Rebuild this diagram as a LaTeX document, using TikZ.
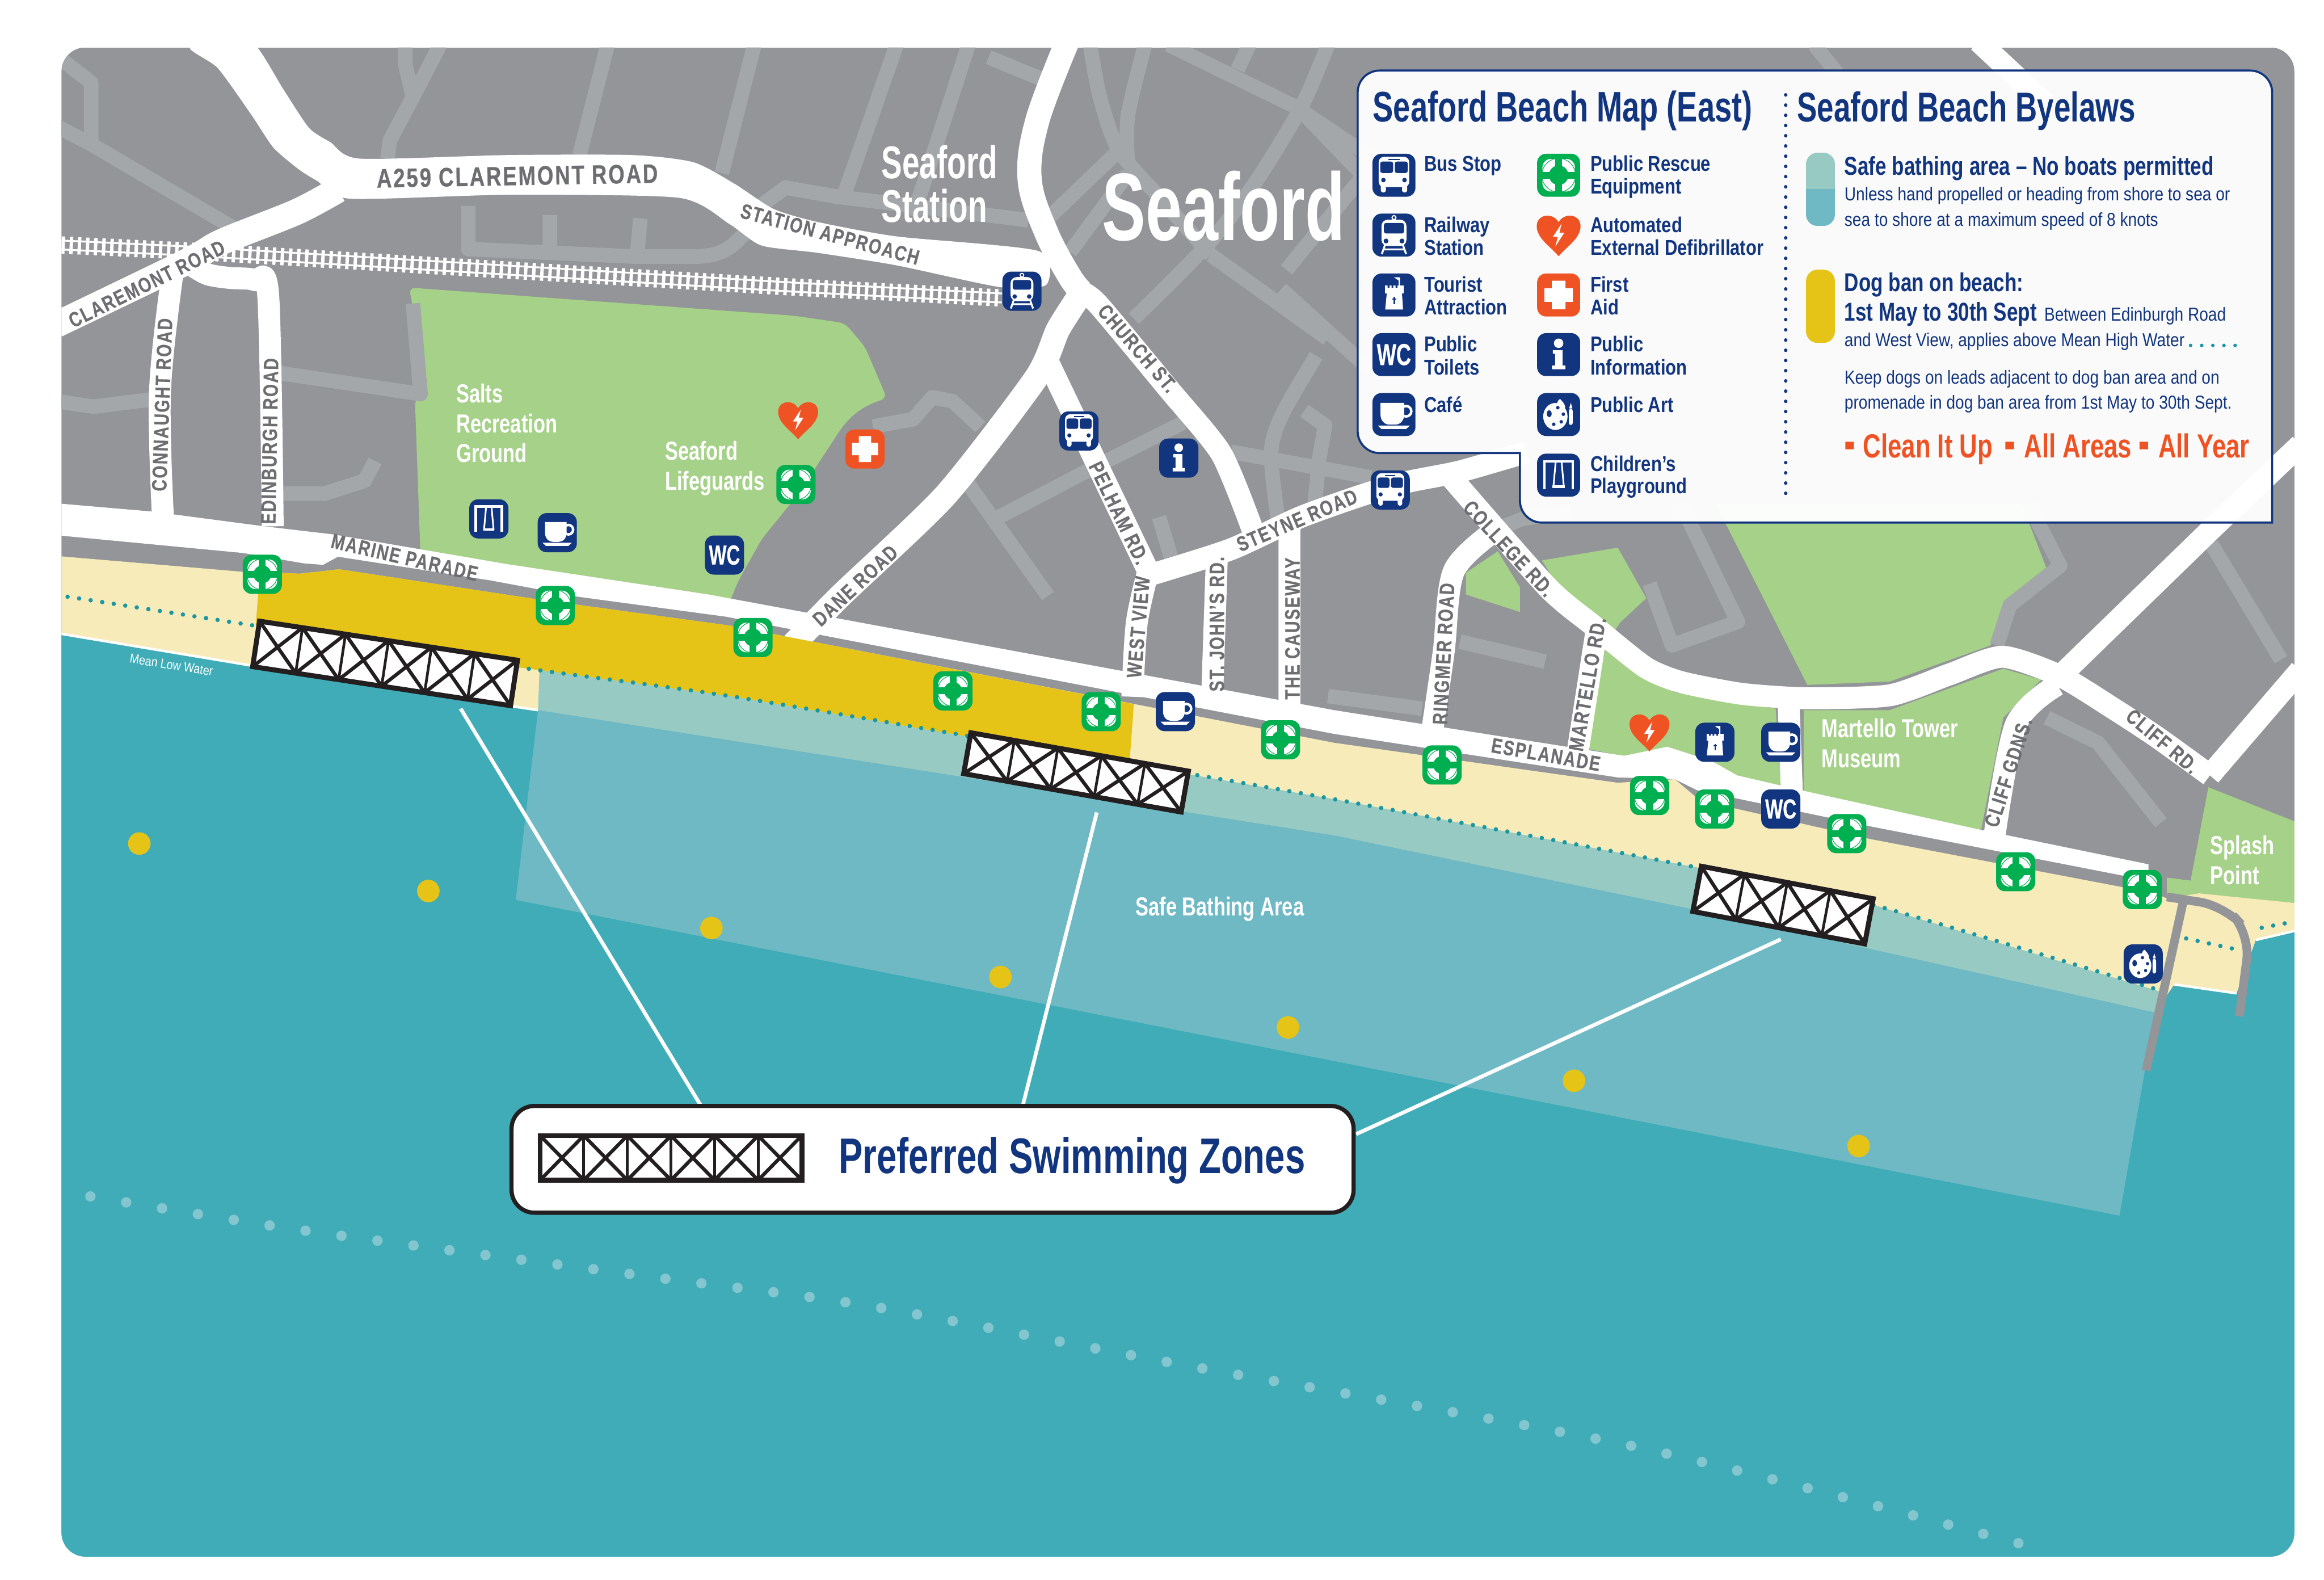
\documentclass[tikz,border=0pt]{standalone}
\usepackage{fontspec}
\setmainfont{Liberation Sans}
\newfontfamily\headfont[FakeStretch=0.72]{Liberation Sans}
\newfontfamily\townfont[FakeStretch=0.68]{Liberation Sans}
\newfontfamily\wcfont[FakeStretch=0.68,FakeBold=0.5]{Liberation Sans}
\newfontfamily\placefont[FakeStretch=0.75]{Liberation Sans}
\newfontfamily\itemfont[FakeStretch=0.82]{Liberation Sans}
\newfontfamily\lawfont[FakeStretch=0.77]{Liberation Sans}
\newfontfamily\bodyfont[FakeStretch=0.85]{Liberation Sans}
\newfontfamily\cleanfont[FakeStretch=0.745]{Liberation Sans}
\newfontfamily\roadfont[FakeStretch=0.78,LetterSpace=6,FakeBold=0.5]{Liberation Sans}
\newcommand{\fsz}[2]{\fontsize{#1}{#2}\selectfont}
\definecolor{land}{HTML}{939598}
\definecolor{backroad}{HTML}{A3A7A9}
\definecolor{park}{HTML}{A6D189}
\definecolor{sea}{HTML}{3FACB7}
\definecolor{safe}{HTML}{6EB9C4}
\definecolor{safepale}{HTML}{96CAC3}
\definecolor{sand}{HTML}{F7EBBA}
\definecolor{dogban}{HTML}{E6C317}
\definecolor{navy}{HTML}{12357F}
\definecolor{rescue}{HTML}{00AF50}
\definecolor{alert}{HTML}{F05323}
\definecolor{roadtext}{HTML}{6D6E71}
\definecolor{tealdot}{HTML}{1A97A3}
\definecolor{farbuoy}{HTML}{84C6CF}
\definecolor{zoneblack}{HTML}{231F20}
\tikzset{
  pics/busicon/.style={code={
    \fill[white,rounded corners=2.5pt] (-9.4,-11.3) rectangle (9.4,7.3);
    \fill[white,rounded corners=1pt] (-8.1,5) rectangle (-5,10.6) (5,5) rectangle (8.1,10.6);
    \fill[navy,rounded corners=1pt] (-8.5,-8.4) rectangle (-.5,-1.4) (.5,-8.4) rectangle (8.5,-1.4);
    \fill[navy] (-3.4,-10.1) rectangle (3.4,-9.2);
    \fill[navy] (-6.5,3) circle (1.4) (6.5,3) circle (1.4);
  }},
  pics/trainicon/.style={code={
    \fill[white,rounded corners=3pt] (-7.7,-9.5) rectangle (7.7,6.7);
    \fill[navy,rounded corners=1pt] (-6.2,-7.5) rectangle (6.2,-1);
    \fill[navy] (-4.9,3.6) circle (1.5) (4.9,3.6) circle (1.5);
    \fill[white] (0,-10.8) circle (1.6);
    \fill[navy] (0,-10.8) circle (.8);
    \draw[white,line width=.9pt] (-5.5,6) -- (-7.5,11.7) (5.5,6) -- (7.5,11.7) (-6.5,8.8) -- (6.5,8.8);
  }},
  pics/towericon/.style={code={
    \fill[white] (-4.4,-1.2) -- (4.9,-1.2) -- (5.6,8.9) -- (-5.4,8.9) -- cycle;
    \fill[white] (-5.4,-5.8) rectangle (6.1,-1);
    \fill[navy] (-3.9,-6) rectangle (-2.8,-4.4) (-1.5,-6) rectangle (-.4,-4.4) (1,-6) rectangle (2.1,-4.4);
    \fill[white] (2.9,-10.9) rectangle (3.7,-5) (0,-10.9) -- (3,-10.9) -- (3,-8.9) -- cycle;
    \draw[navy,line width=.6pt] (.2,1) -- (.2,5.5) (-.9,2.4) -- (1.3,2.4);
  }},
  pics/cupicon/.style={code={
    \fill[white] (-8.3,-7.2) -- (6.3,-7.2) -- (6.3,0) .. controls (6.3,4) and (3.5,6.2) .. (1,6.2) -- (-3,6.2)
      .. controls (-5.5,6.2) and (-8.3,4) .. (-8.3,0) -- cycle;
    \draw[white,line width=1.2pt] (7.5,-2) circle (3.2);
    \fill[white] (-10,6.8) -- (9.8,6.8) -- (7.5,8.9) -- (-7.7,8.9) -- cycle;
  }},
  pics/aidicon/.style={code={
    \fill[white] (-4.2,-8.8) rectangle (4.2,8.8) (-8.8,-4.2) rectangle (8.8,4.2);
  }},
  pics/infoicon/.style={code={
    \fill[white] (0,-7) circle (2.9);
    \fill[white] (-3.6,-2.7) -- (2.4,-2.7) -- (2.4,6.7) -- (4.1,6.7) -- (4.1,9) -- (-4.1,9) -- (-4.1,6.7) -- (-2.2,6.7) -- (-2.2,-.5) -- (-3.6,-.5) -- cycle;
  }},
  pics/swingicon/.style={code={
    \draw[white,line width=1.2pt] (-8.8,8.7) -- (-8.8,-8.4) -- (8.8,-8.4) -- (8.8,8.7);
    \draw[white,line width=.8pt] (-1.8,-8.4) -- (-3.2,7) -- (3.2,7) -- (1.8,-8.4);
    \fill[white] (-3.8,6.3) rectangle (3.8,7.8);
  }},
  pics/articon/.style={code={
    \fill[white] (-2,1.2) ellipse (7.5 and 8.3);
    \fill[white] (-1.5,-4) .. controls (-1,-8) and (0,-9.5) .. (1,-9.5) .. controls (2,-8) and (4,-7) .. (4,-4) -- cycle;
    \fill[navy] (-5.8,-.5) ellipse (1.5 and 2.2) (-3,6) circle (1.1) (1.6,4.5) circle (1.1) (2.9,-.2) circle (1.1) (-.5,-4.2) circle (1.1);
    \fill[white,rounded corners=1pt] (6.3,-3.5) rectangle (8.7,6.5);
    \fill[white] (6.5,-3.8) -- (7.5,-7.2) -- (8.5,-3.8) -- cycle;
  }},
  pics/rescueicon/.style={code={
    \fill[white,rounded corners=4pt] (-10,-10) rectangle (10,10);
    \draw[rescue,line width=.3pt] (0,0) circle (10.4);
    \draw[rescue,line width=3.3pt] (-12,0) -- (12,0) (0,-12) -- (0,12);
    \fill[rescue] (0,0) circle (6);
  }},
  pics/hearticon/.style={code={
    \fill[alert] (0,13) .. controls (-5,7) and (-13.5,2) .. (-13.5,-5.5)
      .. controls (-13.5,-10) and (-10,-12) .. (-7,-12) .. controls (-4,-12) and (-1.5,-10.5) .. (0,-8)
      .. controls (1.5,-10.5) and (4,-12) .. (7,-12) .. controls (10,-12) and (13.5,-10) .. (13.5,-5.5)
      .. controls (13.5,2) and (5,7) .. (0,13) -- cycle;
    \fill[white] (1.8,-7) -- (-3.5,1) -- (-.5,1) -- (-2,7) -- (3.5,-1.5) -- (.5,-1.5) -- cycle;
  }},
  pics/swimzone/.style n args={3}{code={
    \pgfmathsetmacro\segw{#1/#3}
    \fill[white] ({-#1/2},{-#2/2}) rectangle ({#1/2},{#2/2});
    \foreach \k in {1,...,#3} {
      \pgfmathsetmacro\lft{-#1/2+(\k-1)*\segw}
      \pgfmathsetmacro\rgt{-#1/2+\k*\segw}
      \draw[zoneblack,line width=1.7pt] (\lft,{-#2/2}) -- (\rgt,{#2/2}) (\rgt,{-#2/2}) -- (\lft,{#2/2});
      \draw[zoneblack,line width=1.3pt] (\rgt,{-#2/2}) -- (\rgt,{#2/2});
    }
    \draw[zoneblack,line width=2.4pt] ({-#1/2},{-#2/2}) rectangle ({#1/2},{#2/2});
  }}
}
\begin{document}
\begin{tikzpicture}[x=0.025cm,y=-0.025cm,
    main road/.style={draw=white,line width=12.5pt,line join=round},
    town road/.style={draw=white,line width=11.6pt,line join=round},
    side road/.style={draw=white,line width=10.5pt,line join=round},
    back road/.style={draw=backroad,line width=7pt,line join=round},
    map box/.style={rectangle,fill=navy,minimum size=.66cm,inner sep=0pt,rounded corners=4.3pt},
    key box/.style={map box,minimum size=.725cm},
    buoy box/.style={map box,fill=rescue},
    key buoy/.style={key box,fill=rescue},
    aid box/.style={map box,fill=alert},
    key aid/.style={key box,fill=alert},
    key icon/.style={scale=1.095},
    road label/.style={font=\roadfont\bfseries\fsz{10}{10},text=roadtext,inner sep=0pt},
    place label/.style={font=\placefont\bfseries\fsz{12.5}{14},text=white,inner sep=0pt,anchor=base west},
    key item/.style={font=\itemfont\bfseries\fsz{10.3}{11},text=navy,inner sep=0pt,anchor=base west},
    law item/.style={font=\lawfont\bfseries\fsz{12.4}{13},text=navy,inner sep=0pt,anchor=base west},
    key body/.style={font=\bodyfont\fsz{9}{10},text=navy,inner sep=0pt,anchor=base west},
    clean label/.style={font=\cleanfont\bfseries\fsz{16}{16},text=alert,inner sep=0pt,anchor=base west},
    zone buoy/.style={circle,fill=dogban,minimum size=.38cm,inner sep=0pt}]
  \useasboundingbox (0,0) rectangle (1568,1065.4);
  \fill[white] (0,0) rectangle (1568,1065.4);
  \begin{scope}
    \clip[rounded corners=11.5pt] (41.5,32) rectangle (1548,1050);
    \fill[land] (41.5,32) rectangle (1548,1050);
    % parks
    \fill[park,rounded corners=3pt] (276,194) -- (536,213) -- (570,218) -- (583.6,234) -- (598.4,268.7)
      .. controls (578,275) and (570,285) .. (562,297.5) -- (538,334) -- (514,363.5) -- (497.7,392.7) -- (490,412)
      -- (283.7,375) -- (280,270.6) -- (287,251) -- cycle;
    \fill[park] (989,386.4) -- (1010.5,371.8) -- (1025.5,396.2) -- (1025.5,412.8) -- (989,401) -- cycle;
    \fill[park] (1040.4,378) -- (1091.5,369.4) -- (1110.7,403.5) -- (1093,420) -- (1085,432) -- (1060,410) -- cycle;
    \fill[park] (1157.6,340) -- (1219.4,462) -- (1275,459.7) -- (1343,435.3) -- (1355.8,403.5) -- (1381,384) -- (1364,340) -- cycle;
    \fill[park] (1083,437.7) -- (1130,467) -- (1198,478) -- (1202,530.5) -- (1172.5,525.6) -- (1155,513) -- (1125,504) -- (1096,510) -- (1070,505) -- cycle;
    \fill[park] (1217,479) -- (1275,479) -- (1351.6,451) -- (1377,458.5) -- (1351.6,484) -- (1336.6,559.8) -- (1217,534) -- cycle;
    \fill[park] (1490,531) -- (1548,554) -- (1548,610) -- (1483,603) -- (1462,606) -- (1462,592) -- (1478,594) -- cycle;
    % back streets
    \draw[back road] (36,36) -- (61.5,55.7) -- (61.5,94.8) (38,85) -- (61,97) -- (157,153.4);
    \draw[back road] (273.4,30) -- (273.4,43.5) -- (278.6,65.5) (297,30) -- (278.6,65.5) -- (263,94.8) -- (261.5,107);
    \draw[back road] (410,30) -- (391,104.6) (509,30) -- (487,116.8);
    \draw[back road] (316,138.8) -- (316,168) -- (427,173) -- (471.7,173) .. controls (490,172) and (495,165) .. (505,155);
    \draw[back road] (371,145) -- (371,168) (432,147.3) -- (430,170.5);
    \draw[back road] (184.6,251) -- (283.7,265.8) -- (278.6,204.7);
    \draw[back road] (38,270.6) -- (63,274.3) -- (102.5,269.4);
    \draw[back road] (189.7,333) -- (218.8,333) -- (246,324.3) -- (253,310.9);
    \draw[back road] (505,145) -- (529.9,126.5) -- (564.8,132.7) -- (693.8,148.5);
    \draw[back road] (605,30) -- (570,130) (653.5,30) -- (616,146) (667,38.6) -- (702,53);
    \draw[back road] plot[smooth,tension=.5] coordinates {(735.5,30) (742,65) (755,101.5) (784,135) (817,172)};
    \draw[back road] plot[smooth,tension=.5] coordinates {(772.6,30) (761,78) (761,111)};
    \draw[back road] (788,30) -- (874,72) -- (925,106) (843,30) -- (835,47);
    \draw[back road] plot[smooth,tension=.5] coordinates {(896,30) (878,72) (847,123) (815.6,164) (765,215)};
    \draw[back road] (879,76) -- (925,124);
    \draw[back road] (755,101.5) -- (708,146.5) (761,117) -- (722,170);
    \draw[back road] (817,172) -- (895.7,228.5) (868,182) -- (925,112) (864.4,195) -- (925,250);
    \draw[back road] plot[smooth,tension=.5] coordinates {(888,240) (864.4,281) (857.6,307) (863,356)};
    \draw[back road] (880,277) -- (894,287) -- (890,309.7) -- (886,350);
    \draw[back road] (830.8,304.8) -- (925,322) (669.6,351) -- (739.4,314.6) -- (798.5,285);
    \draw[back road] (653.5,326.8) -- (707,402) (782,348.8) -- (790,375.6);
    \draw[back road] (589,287.7) -- (616,282.8) -- (629,268) -- (642.7,270.6) -- (661.5,288);
    \draw[back road] (1134,340) -- (1172.5,419.4) -- (1128,435.3) -- (1113,393.8);
    \draw[back road] (1368.6,340) -- (1390,381.6) -- (1356,408.4) -- (1347.3,435.3);
    \draw[back road] (1381,484) -- (1415.5,501) -- (1458,555) (1492,367) -- (1539,445);
    \draw[back road] (985,432.8) -- (1042.5,446.3) (896,469.5) -- (959.4,478);
    \draw[back road] (998,362) -- (1027,350) -- (1060,345) (1224,30) -- (1240,50);
    % railway
    \draw[white,line width=.9pt,double=land,double distance=3.4pt] (36,165) -- (126.5,169.3) -- (536,193.7) -- (676,201);
    \draw[white,line width=8.3pt,dash pattern=on 1.6pt off 2.3pt] (36,165) -- (126.5,169.3) -- (536,193.7) -- (676,201);
    % white roads
    \fill[white] plot[smooth cycle,tension=.4] coordinates {(128,32) (147,46) (170,78) (184.6,99.7) (201.7,114.3) (214,122) (236,134) (342,131.4) (458,133.4) (492,151) (513.8,165.6) (551.4,170.5) (605,179) (675,193.7) (706,192) (700.5,169.3) (605,159.5) (551.4,149.7) (522,141) (495.6,124) (468,109.5) (427,104.6) (341.8,104.6) (242.7,107) (223,96) (208.5,86.3) (191.4,60.6) (172,30) (150,20)};
    \draw[main road] plot[smooth,tension=.5] coordinates {(228,128) (200,143) (150,163) (125,177) (38,219)};
    \draw[side road] plot[smooth,tension=.6] coordinates {(117,180) (108,263) (110,350)};
    \draw[side road] plot[smooth,tension=.5] coordinates {(128,178) (140,185) (155,187.5) (172,189) (181,200) (184,355)};
    \draw[town road] plot[smooth,tension=.6] coordinates {(721,26) (700,81) (694.7,121) (706,157) (722,187) (730,197)};
    \draw[side road] plot[smooth,tension=.4] coordinates {(730,197) (741.5,206) (789,263) (824,306) (845,357)};
    \draw[town road] plot[smooth,tension=.4] coordinates {(730,197) (714,222) (699,255) (638,334) (567,402) (530,440)};
    \draw[side road] (708,246) -- (776,388);
    \draw[side road] plot[smooth,tension=.4] coordinates {(772,389) (830,370.7) (877,349) (919,334) (950,325) (985,318) (1030,305)};
    \draw[side road] plot[smooth,tension=.5] coordinates {(775,384) (767,420) (764,470)};
    \draw[side road] (821,376) -- (818,465) (870,356) -- (870,480);
    \draw[side road] plot[smooth,tension=.4] coordinates {(979,322) (1044,396) (1075,422) (1110,450) (1134,460) (1175,468) (1219,471) (1275,469) (1315,455) (1351,443) (1390,456) (1426,478) (1455,497) (1491,523)};
    \draw[side road] (1491,523) -- (1552,452) (1390,456) -- (1495,354) -- (1552,300);
    \draw[side road] plot[smooth,tension=.5] coordinates {(1010,357) (981,385) (974,440) (966,495)};
    \draw[side road] (1078,420) -- (1064,510) (1206.6,470) -- (1209,535);
    \draw[side road] plot[smooth,tension=.5] coordinates {(1388,462) (1360,489) (1345.5,565)};
    \draw[side road] (1335,28) -- (1380,70);
    % sea front road
    \fill[white] (38,339.5) -- (102,345) -- (178,355) -- (225,360.5) -- (342,380.5) -- (478,401) -- (900,479) -- (1095.8,509.8)
      -- (1125,503.7) -- (1155,513.4) -- (1172,523) -- (1215,533) -- (1336.6,559.8) -- (1449.6,583)
      -- (1449.6,594) -- (1262,557.4) -- (1145,533) -- (1130,525.6) -- (1091.5,524.4) -- (900,495)
      -- (490,416) -- (390,402.5) -- (331,391.5) -- (228,375.5) -- (218,381) -- (205,380) -- (164,373) -- (38,361) -- cycle;
    % sea and beach
    \fill[sea] (38,427) -- (170,449) -- (346,476.5) -- (363,479) -- (900,563.5) -- (1143,613.5) -- (1454,683) -- (1467,664)
      -- (1509,670) -- (1522,634) -- (1552,627) -- (1552,1054) -- (38,1054) -- cycle;
    \fill[sand] (38,375) -- (164,385.7) -- (202,387) -- (228.7,384) -- (360.6,404) -- (492.5,422) -- (900,501) -- (1091.5,528)
      -- (1130,525.6) -- (1147,540) -- (1262,566) -- (1454,602.6) -- (1462,606) -- (1483.7,602.6) -- (1552,609.5)
      -- (1552,627) -- (1522,634) -- (1509,670) -- (1467,664) -- (1454,683) -- (1143,613.5) -- (900,563.5)
      -- (363,479) -- (346,476.5) -- (170,449) -- (38,427) -- cycle;
    \draw[white,line width=1.2pt] (38,427) -- (170,449) -- (346,476.5) -- (363,479);
    \draw[white,line width=1.2pt] (1467,664) -- (1509,670) (1522,634) -- (1552,627);
    \fill[dogban] (175.4,385.7) -- (202,387) -- (228.7,384) -- (360.6,404) -- (492.5,422) -- (765,475) -- (762,515.5)
      -- (495.4,470) -- (349,450) -- (172.5,422) -- cycle;
    \fill[safepale] (364,452) -- (495.4,470) -- (762,515.5) -- (899.7,539) -- (1147,585.5) -- (1266,611) -- (1458,669)
      -- (1454,683) -- (1143,613.5) -- (900,563.5) -- (363,479) -- cycle;
    \fill[safe] (363,479) -- (900,563.5) -- (1143,613.5) -- (1454,683) -- (1430,820) -- (348,607) -- cycle;
    \draw[tealdot,line width=2.1pt,line cap=round,dash pattern=on 0pt off 5.6pt] plot[smooth,tension=.4]
      coordinates {(45.6,402.5) (171.6,422) (349,450) (495.4,470) (762,515) (899.7,539) (1147,585.5) (1266,611) (1454,667)};
    \draw[tealdot,line width=2.1pt,line cap=round,dash pattern=on 0pt off 5.6pt] (1475,633) -- (1507,640) (1526,625.8) -- (1546,622);
    % groynes
    \draw[land,line width=4.2pt] (1473,608) -- (1448,722);
    \draw[land,line width=4.2pt,rounded corners=12pt] (1462,605) -- (1500.8,611) -- (1518,630) -- (1511,685.6);
    % sea marks
    \draw[farbuoy,line width=5pt,line cap=round,dash pattern=on 0pt off 17.42pt] plot[smooth,tension=.5]
      coordinates {(61,807) (205,830) (445,862) (587,881) (800,921) (1104,976) (1362,1041)};
    \foreach \pos [count=\i] in {(94,569),(289,601),(480,626),(675,659),(869,693),(1062,729),(1254,773)}
      \node[zone buoy] (mark\i) at \pos {};
    \pic[rotate=-8.6] at (259.8,447.5) {swimzone={176}{31}{6}};
    \pic[rotate=-10] at (726,521) {swimzone={149}{28}{5}};
    \pic[rotate=-10.7] at (1203,610.5) {swimzone={118}{31}{4}};
    % callout
    \coordinate (leadA) at (310.8,478);
    \coordinate (leadB) at (740,548);
    \coordinate (leadC) at (1201.5,633.6);
    \coordinate (footA) at (473,746);
    \coordinate (footB) at (690,746);
    \coordinate (footC) at (915,765);
    \draw[white,line width=1.8pt] (leadA) -- (footA) (leadB) -- (footB) (leadC) -- (footC);
    \node[draw=zoneblack,fill=white,line width=2pt,rounded corners=11pt,minimum width=14.2cm,minimum height=1.8cm,inner sep=0pt] (callout) at (629.2,782) {};
    \pic at (452.7,781) {swimzone={176.5}{30}{6}};
    \node[font=\headfont\bfseries\fsz{24}{24},text=navy,inner sep=0pt,anchor=base west] (calloutText) at (565.7,791.6) {Preferred Swimming Zones};
    % legend panel
    \draw[navy,line width=1pt,fill=white,fill opacity=.96,rounded corners=10.5pt] (916,47.6) -- (1533,47.6) [sharp corners] -- (1533,352.5) [rounded corners=10.5pt] -- (1025.5,352.5) [sharp corners] -- (1025.5,305.6) [rounded corners=10.5pt] -- (916,305.6) -- cycle;
    \draw[navy,line width=1.7pt,line cap=round,dash pattern=on 0pt off 4.9pt] (1204.8,64) -- (1204.8,338);
    \node[font=\headfont\bfseries\fsz{20.5}{21},text=navy,inner sep=0pt,anchor=base west] (mapTitle) at (926,82.3) {Seaford Beach Map (East)};
    \node[font=\headfont\bfseries\fsz{20}{20},text=navy,inner sep=0pt,anchor=base west] (lawTitle) at (1212.3,82.3) {Seaford Beach Byelaws};
    \node[key box] (keyBus) at (940.5,118.2) {}; \pic[key icon] at (keyBus) {busicon};
    \node[key box] (keyRail) at (940.5,158.6) {}; \pic[key icon] at (keyRail) {trainicon};
    \node[key box] (keyTower) at (940.5,199) {}; \pic[key icon] at (keyTower) {towericon};
    \node[key box,font=\wcfont\bfseries\fsz{14.5}{15},text=white] (keyWc) at (940.5,239.2) {WC};
    \node[key box] (keyCup) at (940.5,279.6) {}; \pic[key icon] at (keyCup) {cupicon};
    \node[key buoy] (keyBuoy) at (1051.6,118.2) {}; \pic[key icon] at (keyBuoy) {rescueicon};
    \pic[key icon] at (1051.6,158.6) {hearticon};
    \node[key aid] (keyAid) at (1051.6,199) {}; \pic[key icon] at (keyAid) {aidicon};
    \node[key box] (keyInfo) at (1051.6,239.2) {}; \pic[key icon] at (keyInfo) {infoicon};
    \node[key box] (keyArt) at (1051.6,279.6) {}; \pic[key icon] at (keyArt) {articon};
    \node[key box] (keySwing) at (1051.6,320.5) {}; \pic[key icon] at (keySwing) {swingicon};
    \node[key item] (txtBus) at (960.7,115.5) {Bus Stop};
    \node[key item] (txtRailA) at (960.7,156.6) {Railway};
    \node[key item] (txtRailB) at (960.7,172) {Station};
    \node[key item] (txtTowerA) at (960.7,197) {Tourist};
    \node[key item] (txtTowerB) at (960.7,212.2) {Attraction};
    \node[key item] (txtWcA) at (960.7,237.1) {Public};
    \node[key item] (txtWcB) at (960.7,252.7) {Toilets};
    \node[key item] (txtCup) at (960.7,278) {Café};
    \node[key item] (txtBuoyA) at (1072.8,115.5) {Public Rescue};
    \node[key item] (txtBuoyB) at (1072.8,130.6) {Equipment};
    \node[key item] (txtAedA) at (1072.8,156.6) {Automated};
    \node[key item] (txtAedB) at (1072.8,172) {External Defibrillator};
    \node[key item] (txtAidA) at (1072.8,197) {First};
    \node[key item] (txtAidB) at (1072.8,212.2) {Aid};
    \node[key item] (txtInfoA) at (1072.8,237.1) {Public};
    \node[key item] (txtInfoB) at (1072.8,252.7) {Information};
    \node[key item] (txtArt) at (1072.8,278) {Public Art};
    \node[key item] (txtSwingA) at (1072.8,318) {Children’s};
    \node[key item] (txtSwingB) at (1072.8,333) {Playground};
    % byelaws
    \begin{scope}
      \clip[rounded corners=5.5pt] (1218.5,103) rectangle (1238,152.4);
      \fill[safepale] (1218.5,103) rectangle (1238,127.5);
      \fill[safe] (1218.5,127.5) rectangle (1238,152.4);
    \end{scope}
    \fill[dogban,rounded corners=5.5pt] (1218.5,181.9) rectangle (1238,231.3);
    \node[law item] (lawSafe) at (1244.2,118.2) {Safe bathing area – No boats permitted};
    \node[key body] (lawSafeA) at (1244.2,135.4) {Unless hand propelled or heading from shore to sea or};
    \node[key body] (lawSafeB) at (1244.2,152.4) {sea to shore at a maximum speed of 8 knots};
    \node[law item] (lawDog) at (1244.2,196.4) {Dog ban on beach:};
    \node[law item] (lawDates) at (1244.2,216.3) {1st May to 30th Sept};
    \node[key body] (lawDogA) at (1379,216.3) {Between Edinburgh Road};
    \node[key body] (lawDogB) at (1244.2,233.8) {and West View, applies above Mean High Water};
    \foreach \k in {0,1,2,3,4}
      \fill[tealdot] ({1478+\k*7.5},233) circle (1.2);
    \node[key body] (lawLeadA) at (1244.2,258.9) {Keep dogs on leads adjacent to dog ban area and on};
    \node[key body] (lawLeadB) at (1244.2,275.9) {promenade in dog ban area from 1st May to 30th Sept.};
    \fill[alert] (1245,298) rectangle (1250.8,303) (1353,298) rectangle (1358.8,303) (1443.5,298) rectangle (1449.3,303);
    \node[clean label] (cleanA) at (1256.7,308.7) {Clean It Up};
    \node[clean label] (cleanB) at (1365.4,308.7) {All Areas};
    \node[clean label] (cleanC) at (1456,308.7) {All Year};
    % place names
    \node[place label,font=\townfont\bfseries\fsz{46}{46}] (town) at (743.5,162) {Seaford};
    \node[place label,font=\townfont\bfseries\fsz{22}{22}] (stationA) at (594.4,120.4) {Seaford};
    \node[place label,font=\townfont\bfseries\fsz{22}{22}] (stationB) at (594.4,149.8) {Station};
    \node[place label] (saltsA) at (307.6,271.8) {Salts};
    \node[place label] (saltsB) at (307.6,291.9) {Recreation};
    \node[place label] (saltsC) at (307.6,311.7) {Ground};
    \node[place label] (guardA) at (448.4,310.2) {Seaford};
    \node[place label] (guardB) at (448.4,330.4) {Lifeguards};
    \node[place label] (museumA) at (1228.8,497.6) {Martello Tower};
    \node[place label] (museumB) at (1228.8,517.6) {Museum};
    \node[place label] (splashA) at (1491,576.4) {Splash};
    \node[place label] (splashB) at (1491,596.5) {Point};
    \node[place label,anchor=center] (safeArea) at (823,613) {Safe Bathing Area};
    \node[place label,font=\bodyfont\fsz{6.3}{7},rotate=-9] (lowWater) at (87,447) {Mean Low Water};
    % road names
    \node[road label,font=\roadfont\bfseries\fsz{12.8}{13},rotate=1] (rdA) at (349,118.7) {A259 CLAREMONT ROAD};
    \node[road label,rotate=-15] (rdB) at (560,158) {STATION APPROACH};
    \node[road label,rotate=26.3] (rdC) at (99,191.5) {CLAREMONT ROAD};
    \node[road label,rotate=88] (rdD) at (109.4,273) {CONNAUGHT ROAD};
    \node[road label,rotate=89] (rdE) at (182,297.5) {EDINBURGH ROAD};
    \node[road label,rotate=-13] (rdF) at (273,376) {MARINE PARADE};
    \node[road label,rotate=43] (rdG) at (577,395) {DANE ROAD};
    \node[road label,rotate=-64] (rdH) at (755,346) {PELHAM RD.};
    \node[road label,rotate=-49] (rdI) at (767.5,235) {CHURCH ST.};
    \node[road label,rotate=23] (rdJ) at (875,351) {STEYNE ROAD};
    \node[road label,rotate=85] (rdK) at (768,423) {WEST VIEW};
    \node[road label,rotate=90] (rdL) at (821,421) {ST. JOHN’S RD.};
    \node[road label,rotate=90] (rdM) at (872,424) {THE CAUSEWAY};
    \node[road label,rotate=87] (rdN) at (974,441) {RINGMER ROAD};
    \node[road label,rotate=-47] (rdO) at (1018,370) {COLLEGE RD.};
    \node[road label,rotate=80] (rdP) at (1071,461.5) {MARTELLO RD.};
    \node[road label,rotate=-10] (rdQ) at (1043,509) {ESPLANADE};
    \node[road label,rotate=72] (rdR) at (1355,521) {CLIFF GDNS.};
    \node[road label,rotate=-40] (rdS) at (1459,500) {CLIFF RD.};
    % map icons
    \foreach \pos [count=\i] in {(177,387.4),(374.7,408.4),(508,430),(643,466),(743,480),(864,499),(973,516),(1113,536.6),(1156.8,545.7),(1246,562.3),(1360,588),(1445.4,600),(537,326.8)} {
      \node[buoy box] (buoy\i) at \pos {};
      \pic at (buoy\i) {rescueicon};
    }
    \node[map box] (busA) at (728,290.7) {}; \pic at (busA) {busicon};
    \node[map box] (busB) at (938,330.5) {}; \pic at (busB) {busicon};
    \node[map box] (railA) at (689.5,196.4) {}; \pic at (railA) {trainicon};
    \node[map box] (infoA) at (795.3,309) {}; \pic at (infoA) {infoicon};
    \node[aid box] (aidA) at (583.6,302.9) {}; \pic at (aidA) {aidicon};
    \pic at (538.5,283.3) {hearticon};
    \pic at (1112.9,493.9) {hearticon};
    \node[map box] (swingA) at (329.8,350) {}; \pic at (swingA) {swingicon};
    \node[map box] (cupA) at (376,359.3) {}; \pic at (cupA) {cupicon};
    \node[map box] (cupB) at (793,480) {}; \pic at (cupB) {cupicon};
    \node[map box] (cupC) at (1201.5,500.7) {}; \pic at (cupC) {cupicon};
    \node[map box,font=\wcfont\bfseries\fsz{13.2}{14},text=white] (wcA) at (488.8,374.4) {WC};
    \node[map box,font=\wcfont\bfseries\fsz{13.2}{14},text=white] (wcB) at (1201.5,545.7) {WC};
    \node[map box] (towerA) at (1157,500.7) {}; \pic at (towerA) {towericon};
    \node[map box] (artA) at (1446,650.2) {}; \pic at (artA) {articon};
  \end{scope}
\end{tikzpicture}
\end{document}
